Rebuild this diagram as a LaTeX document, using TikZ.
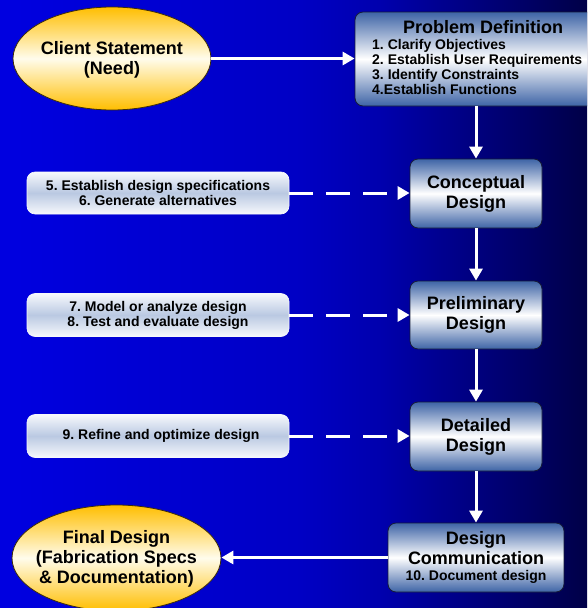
\documentclass[tikz,border=0pt]{standalone}
\usepackage{fontspec}
\setmainfont{Liberation Sans}
\usetikzlibrary{arrows.meta,shapes.geometric}
\definecolor{bxblue}{RGB}{62,100,166}
\definecolor{lbmid}{RGB}{186,201,226}
\definecolor{lbtop}{RGB}{246,248,252}
\definecolor{gold}{RGB}{255,190,0}
\definecolor{cream}{RGB}{255,252,236}
\definecolor{edge}{RGB}{22,28,55}
\definecolor{ovedge}{RGB}{60,45,10}
\pgfdeclarehorizontalshading{bgshade}{100bp}{rgb(0bp)=(0,0,0.88); rgb(25bp)=(0,0,0.88); rgb(50.5bp)=(0,0,0.77); rgb(57.4bp)=(0,0,0.68); rgb(75bp)=(0,0,0.28); rgb(100bp)=(0,0,0.28)}
\tikzset{
  bluebox/.style={rectangle, rounded corners=8pt, draw=edge, line width=0.8pt,
    top color=bxblue, bottom color=bxblue, middle color=white, inner sep=0pt,
    align=center, text=black, font=\frenchspacing\bfseries\fontsize{18}{20}\selectfont},
  lightbox/.style={rectangle, rounded corners=8pt, draw=lbtop, line width=0.6pt,
    top color=lbtop, bottom color=lbtop, middle color=lbmid, minimum width=262pt,
    inner sep=0pt, align=center, text=black, font=\frenchspacing\bfseries\fontsize{14}{15}\selectfont},
  oval/.style={ellipse, draw=ovedge, line width=0.8pt, top color=gold, bottom color=gold,
    middle color=cream, inner sep=0pt},
  bigtxt/.style={inner sep=0pt, align=center, text=black, font=\frenchspacing\bfseries\fontsize{18}{20}\selectfont},
  smalltxt/.style={inner sep=0pt, text=black, font=\frenchspacing\bfseries\fontsize{14}{15}\selectfont},
  flow/.style={draw=white, line width=3pt, -{Triangle[width=13pt,length=12pt]}},
  feed/.style={flow, dash pattern=on 24pt off 13pt}
}
\begin{document}
\frenchspacing
\begin{tikzpicture}[x=1pt,y=-1pt]
\useasboundingbox (0,0) rectangle (587,608);
\clip (0,0) rectangle (587,608);
\shade[shading=bgshade] (0,0) rectangle (587,608);

% ovals
\node[oval, minimum width=198pt, minimum height=103pt] (client) at (112,58.5) {};
\node[bigtxt] (clientT) at (112,60.3) {Client Statement\\(Need)};
\node[oval, minimum width=209pt, minimum height=106pt] (final) at (116.5,558) {};
\node[bigtxt] (finalT) at (116.5,558.6) {Final Design\\(Fabrication Specs\\\& Documentation)};

% problem definition
\node[bluebox, minimum width=256pt, minimum height=94pt] (prob) at (483,59) {};
\node[bigtxt] (probT) at (483,27.5) {Problem Definition};
\node[smalltxt, anchor=west, align=left] (probL) at (372,66.9)
  {1. Clarify Objectives\\2. Establish User Requirements\\3. Identify Constraints\\4.Establish Functions};

% design stages
\node[bluebox, minimum width=132pt, minimum height=69pt] (conc) at (476,193.5) {Conceptual\\Design};
\node[bluebox, minimum width=132pt, minimum height=68pt] (prel) at (476,315) {Preliminary\\Design};
\node[bluebox, minimum width=132pt, minimum height=69pt] (det) at (476,436.5) {Detailed\\Design};
\node[bluebox, minimum width=176pt, minimum height=69pt] (dc) at (476,557.5) {};
\node[bigtxt] (dcT) at (476,548.5) {Design\\Communication};
\node[smalltxt, anchor=base] (dcI) at (476,580.7) {10. Document design};

% activity boxes
\node[lightbox, minimum height=42pt] (act1) at (158,193) {5. Establish design specifications\\6. Generate alternatives};
\node[lightbox, minimum height=43pt] (act2) at (158,315) {7. Model or analyze design\\8. Test and evaluate design};
\node[lightbox, minimum height=43pt] (act3) at (158,436) {\hspace*{6pt}9. Refine and optimize design};

% connectors
\draw[flow] (client.east) -- (client.east -| prob.west);
\draw[flow] (prob.south -| conc.north) -- (conc.north);
\draw[flow] (conc.south) -- (prel.north);
\draw[flow] (prel.south) -- (det.north);
\draw[flow] (det.south) -- (dc.north);
\draw[flow] (dc.west) -- (dc.west -| final.east);
\draw[feed] (act1.east) -- (act1.east -| conc.west);
\draw[feed] (act2.east) -- (act2.east -| prel.west);
\draw[feed] (act3.east) -- (act3.east -| det.west);
\end{tikzpicture}
\end{document}
